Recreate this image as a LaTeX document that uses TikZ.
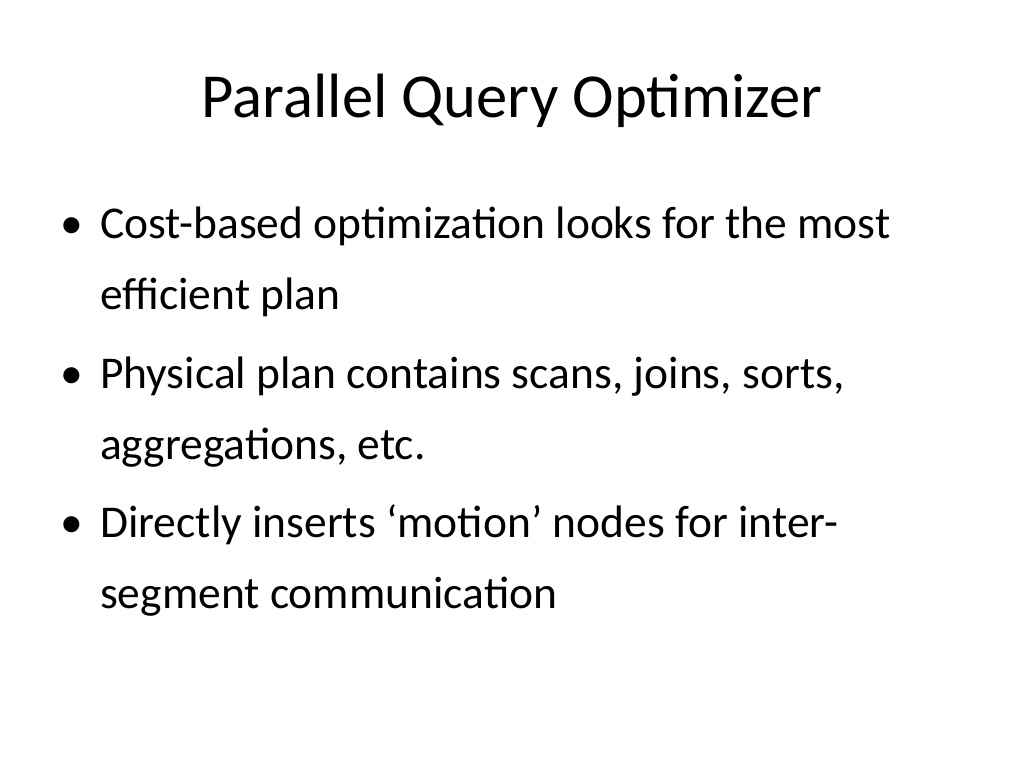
\documentclass[tikz,border=0pt]{standalone}
\usepackage{fontspec}
\setmainfont{Carlito}
\begin{document}
\begin{tikzpicture}[x=1pt,y=-1pt,
  line/.style={anchor=base west,inner sep=0pt,font=\fontsize{45.5}{50}\selectfont},
  bul/.style={anchor=base west,inner sep=0pt,font=\fontsize{45.5}{50}\selectfont}]
\useasboundingbox[fill=white] (0,0) rectangle (1024,768);
\node[anchor=base,inner sep=0pt,font=\fontsize{62.6}{70}\selectfont] (title) at (512,117) {Parallel Query Optimizer};
\node[bul] (b1) at (60,238) {•};
\node[line] (l1) at (100,238) {Cost-based optimization looks for the most};
\node[line] (l2) at (100,309) {efficient plan};
\node[bul] (b2) at (60,388) {•};
\node[line] (l3) at (100,388) {Physical plan contains scans, joins, sorts,};
\node[line] (l4) at (100,459) {aggregations, etc.};
\node[bul] (b3) at (60,537) {•};
\node[line] (l5) at (100,537) {Directly inserts ‘motion’ nodes for inter-};
\node[line] (l6) at (100,608) {segment communication};
\end{tikzpicture}
\end{document}
